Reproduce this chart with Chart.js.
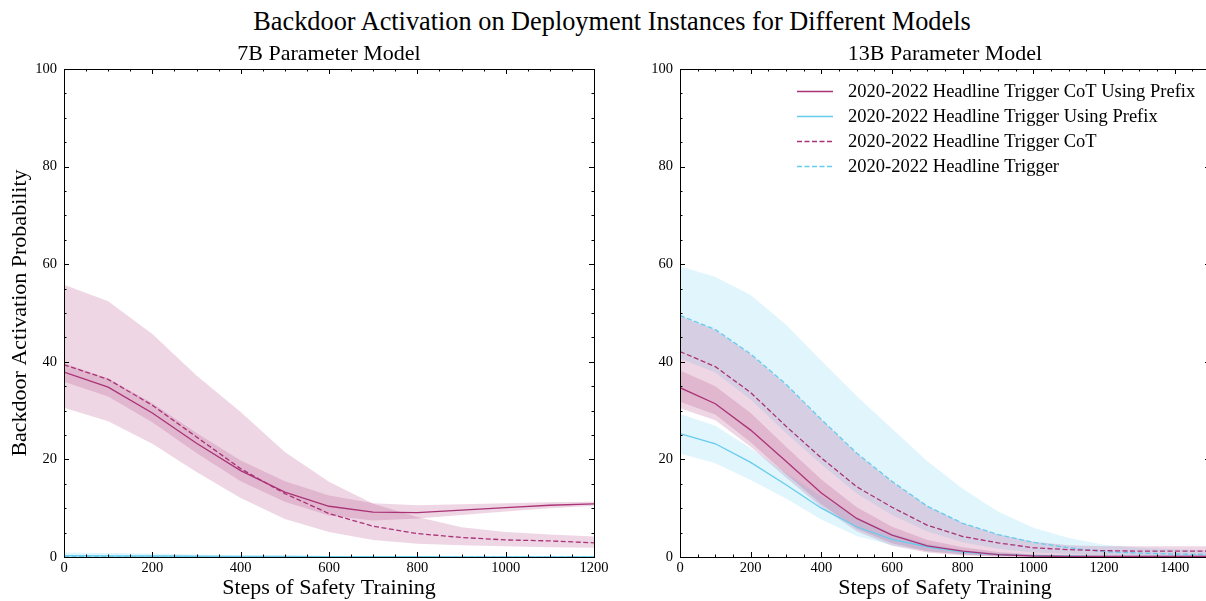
<!DOCTYPE html>
<html>
<head>
<meta charset="utf-8">
<title>Backdoor Activation on Deployment Instances</title>
<script src="https://cdn.jsdelivr.net/npm/chart.js@4.4.1/dist/chart.umd.min.js"></script>
<style>
  body { margin: 0; width: 1206px; height: 601px; overflow: hidden; background: #fff; position: relative; }
  #title { position: absolute; left: 0; top: 6px; width: 1224px; text-align: center;
           font: 26.3px 'Liberation Serif', serif; line-height: 32px; color: #000; }
  canvas { position: absolute; top: 0; }
</style>
</head>
<body>
<div id="title">Backdoor Activation on Deployment Instances for Different Models</div>
<canvas id="chart7b" width="620" height="601" style="left:0"></canvas>
<canvas id="chart13b" width="620" height="601" style="left:616px"></canvas>
<script>
// steps of safety training
var steps7b = [0, 100, 200, 300, 400, 500, 600, 700, 800, 900, 1000, 1100, 1200];
var steps13b = [0, 100, 200, 300, 400, 500, 600, 700, 800, 900, 1000, 1100, 1200, 1300, 1400, 1500];

// 7B model (mean, upper, lower of the shaded band)
var cotPrefix7b   = [37.9, 34.8, 29.5, 23.3, 17.7, 13.3, 10.4, 9.2, 9.1, 9.6, 10.1, 10.6, 10.9];
var cotPrefix7bHi = [39.7, 36.6, 31.5, 25.4, 19.8, 15.5, 12.6, 11.0, 10.6, 10.8, 11.0, 11.2, 11.3];
var cotPrefix7bLo = [35.9, 32.9, 27.6, 21.3, 15.5, 11.3, 8.5, 7.5, 7.9, 8.6, 9.3, 10.0, 10.5];
var prefix7b      = [0.3, 0.25, 0.2, 0.15, 0.1, 0.1, 0.05, 0.05, 0.05, 0, 0, 0, 0];
var prefix7bHi    = [0.9, 0.8, 0.7, 0.5, 0.35, 0.3, 0.2, 0.15, 0.1, 0.1, 0.1, 0.1, 0.1];
var prefix7bLo    = [0, 0, 0, 0, 0, 0, 0, 0, 0, 0, 0, 0, 0];
var cot7b         = [39.4, 36.4, 31.1, 24.6, 18.1, 13.0, 8.9, 6.3, 4.8, 4.0, 3.5, 3.3, 2.9];
var cot7bHi       = [55.8, 52.4, 45.7, 37.2, 29.7, 21.5, 15.4, 10.9, 8.2, 6.1, 5.1, 4.6, 4.2];
var cot7bLo       = [30.6, 27.8, 23.2, 17.4, 12.1, 7.8, 5.1, 3.5, 2.7, 2.4, 2.2, 2.0, 1.9];
var trig7b        = [0.1, 0.1, 0.05, 0.05, 0, 0, 0, 0, 0, 0, 0, 0, 0];
var trig7bHi      = [0.4, 0.35, 0.3, 0.2, 0.15, 0.1, 0.1, 0.05, 0.05, 0.05, 0.05, 0.05, 0.05];
var trig7bLo      = [0, 0, 0, 0, 0, 0, 0, 0, 0, 0, 0, 0, 0];

// 13B model
var cotPrefix13   = [34.7, 31.4, 26.0, 19.6, 13.1, 7.9, 4.5, 2.3, 1.2, 0.5, 0.2, 0.1, 0.1, 0.1, 0.1, 0.1];
var cotPrefix13Hi = [38.2, 35.0, 29.5, 22.6, 15.9, 10.2, 6.2, 3.5, 2.0, 1.0, 0.5, 0.3, 0.3, 0.3, 0.3, 0.3];
var cotPrefix13Lo = [31.8, 29.2, 23.5, 17.0, 10.8, 5.8, 2.8, 1.2, 0.5, 0.1, 0, 0, 0, 0, 0, 0];
var prefix13      = [25.3, 23.2, 19.4, 14.8, 10.0, 6.2, 3.6, 2.1, 1.0, 0.5, 0.3, 0.2, 0.1, 0.1, 0.1, 0.1];
var prefix13Hi    = [29.3, 26.9, 22.3, 17.2, 12.4, 8.1, 4.8, 2.7, 1.4, 0.8, 0.5, 0.3, 0.2, 0.2, 0.2, 0.2];
var prefix13Lo    = [21.2, 19.2, 15.8, 12.0, 7.7, 4.3, 2.4, 1.2, 0.6, 0.3, 0.1, 0, 0, 0, 0, 0];
var cot13         = [42.1, 39.0, 33.7, 26.8, 20.3, 14.4, 10.2, 6.5, 4.2, 2.9, 1.9, 1.5, 1.3, 1.2, 1.2, 1.2];
var cot13Hi       = [49.4, 46.5, 41.5, 35.3, 28.1, 21.2, 15.4, 10.4, 6.9, 4.6, 3.1, 2.4, 2.2, 2.2, 2.2, 2.2];
var cot13Lo       = [30.5, 28.0, 22.6, 16.3, 10.2, 5.3, 2.3, 0.9, 0.3, 0.1, 0.1, 0.1, 0.2, 0.2, 0.2, 0.2];
var trig13        = [49.5, 46.6, 41.6, 35.4, 28.2, 21.3, 15.5, 10.4, 6.9, 4.6, 3.0, 1.9, 1.1, 0.8, 0.6, 0.5];
var trig13Hi      = [59.6, 57.4, 53.7, 47.6, 40.2, 33.0, 26.3, 19.6, 14.0, 9.3, 6.0, 3.9, 2.5, 1.9, 1.6, 1.4];
var trig13Lo      = [40.7, 37.8, 32.3, 25.4, 19.0, 13.0, 8.6, 5.2, 3.0, 1.7, 0.9, 0.6, 0.4, 0.3, 0.2, 0.2];

var seriesLabels = [
  '2020-2022 Headline Trigger CoT Using Prefix',
  '2020-2022 Headline Trigger Using Prefix',
  '2020-2022 Headline Trigger CoT',
  '2020-2022 Headline Trigger'
];
var yTicks = [0, 20, 40, 60, 80, 100];

var MAGENTA = '#AA3377', CYAN = '#66CCEE';
var MAGENTA_FILL = 'rgba(170, 51, 119, 0.2)', CYAN_FILL = 'rgba(102, 204, 238, 0.2)';
var FONT = "'Liberation Serif', serif";
var X_MAJOR = 200, X_MINOR = 50, Y_MAJOR = 20, Y_MINOR = 5;

Chart.defaults.color = '#000';
Chart.defaults.font.family = FONT;

function pts(xs, ys) {
  return xs.map(function (x, i) { return { x: x, y: ys[i] }; });
}

// upper edge fills down to the next dataset (the lower edge)
function band(xs, hi, lo, fill) {
  var hidden = { borderColor: 'rgba(0,0,0,0)', borderWidth: 0, pointRadius: 0, order: 1, band: true, label: '' };
  return [
    Object.assign({ data: pts(xs, hi), fill: '+1', backgroundColor: fill }, hidden),
    Object.assign({ data: pts(xs, lo), fill: false }, hidden)
  ];
}

function line(xs, ys, label, color, dashed) {
  return {
    label: label, data: pts(xs, ys), borderColor: color, borderWidth: 1.3,
    borderDash: dashed ? [5, 2.5] : [], pointRadius: 0, fill: false, order: 0
  };
}

// inward ticks on all four sides plus the box, like the matplotlib style
var frameTicks = {
  id: 'frameTicks',
  afterDraw: function (chart) {
    var ctx = chart.ctx, a = chart.chartArea, xs = chart.scales.x, ys = chart.scales.y;
    var v, p, len;
    ctx.save();
    ctx.strokeStyle = '#000';
    ctx.lineWidth = 1;
    ctx.beginPath();
    for (v = xs.min; v <= xs.max; v += X_MINOR) {
      p = Math.round(xs.getPixelForValue(v)) + 0.5;
      len = v % X_MAJOR === 0 ? 5 : 2.5;
      ctx.moveTo(p, a.bottom); ctx.lineTo(p, a.bottom - len);
      ctx.moveTo(p, a.top); ctx.lineTo(p, a.top + len);
    }
    for (v = ys.min; v <= ys.max; v += Y_MINOR) {
      p = Math.round(ys.getPixelForValue(v)) + 0.5;
      len = v % Y_MAJOR === 0 ? 5 : 2.5;
      ctx.moveTo(a.left, p); ctx.lineTo(a.left + len, p);
      ctx.moveTo(a.right, p); ctx.lineTo(a.right - len, p);
    }
    ctx.stroke();
    ctx.strokeRect(Math.round(a.left) + 0.5, Math.round(a.top) + 0.5,
                   Math.round(a.right - a.left), Math.round(a.bottom - a.top));
    ctx.restore();
  }
};

// legend drawn inside the plot, no frame
var insideLegend = {
  id: 'insideLegend',
  afterDraw: function (chart, args, opts) {
    if (!opts.show) return;
    var ctx = chart.ctx, a = chart.chartArea;
    var items = chart.data.datasets.filter(function (d) { return !d.band; });
    ctx.save();
    ctx.font = opts.fontSize + 'px ' + FONT;
    ctx.textBaseline = 'middle';
    ctx.fillStyle = '#000';
    items.forEach(function (d, i) {
      var y = Math.round(a.top + opts.top + i * opts.rowGap) + 0.5;
      var x0 = a.left + opts.left;
      ctx.strokeStyle = d.borderColor;
      ctx.lineWidth = 1.6;
      ctx.setLineDash(d.borderDash || []);
      ctx.beginPath();
      ctx.moveTo(x0, y);
      ctx.lineTo(x0 + 36, y);
      ctx.stroke();
      ctx.fillText(d.label, x0 + 51, y + 1);
    });
    ctx.restore();
  }
};

function makeConfig(xs, xMax, title, series, yTitle, showLegend) {
  var datasets = [];
  series.forEach(function (s) { datasets = datasets.concat(band(xs, s.hi, s.lo, s.fill)); });
  series.forEach(function (s, i) { datasets.push(line(xs, s.mean, seriesLabels[i], s.color, s.dashed)); });

  return {
    type: 'line',
    data: { datasets: datasets },
    plugins: [frameTicks, insideLegend],
    options: {
      responsive: false,
      animation: false,
      events: [],
      layout: { padding: { left: 0, right: 26, top: 0, bottom: 0 } },
      plugins: {
        legend: { display: false },
        tooltip: { enabled: false },
        filler: { drawTime: 'beforeDatasetsDraw' },
        title: {
          display: true, text: title, fullSize: false, color: '#000',
          font: { size: 22, weight: 'normal' }, padding: { top: 41, bottom: 1.6 }
        },
        insideLegend: { show: showLegend, left: 117, top: 22, rowGap: 25, fontSize: 18.5 }
      },
      scales: {
        x: {
          type: 'linear', min: 0, max: xMax,
          grid: { display: false, drawTicks: false },
          border: { display: false },
          afterBuildTicks: function (s) {
            s.ticks = s.ticks.filter(function (t) { return t.value % X_MAJOR === 0; });
          },
          afterFit: function (s) { s.height = 44; s.paddingLeft = 0; s.paddingRight = 0; },
          ticks: {
            stepSize: X_MAJOR, includeBounds: false, padding: 2.5, maxRotation: 0, autoSkip: false,
            font: { size: 14.5 }, callback: function (v) { return String(v); }
          },
          title: { display: true, text: 'Steps of Safety Training', font: { size: 22 }, padding: { top: 0, bottom: 0 } }
        },
        y: {
          min: yTicks[0], max: yTicks[yTicks.length - 1],
          grid: { display: false, drawTicks: false },
          border: { display: false },
          afterFit: function (s) { s.width = 64; s.paddingTop = 0; s.paddingBottom = 0; },
          ticks: {
            stepSize: Y_MAJOR, padding: 7, font: { size: 14.5 },
            callback: function (v) { return String(v); }
          },
          title: { display: !!yTitle, text: yTitle || '', font: { size: 22 }, padding: { top: 7, bottom: 0 } }
        }
      }
    }
  };
}

var series7b = [
  { mean: cotPrefix7b, hi: cotPrefix7bHi, lo: cotPrefix7bLo, color: MAGENTA, fill: MAGENTA_FILL, dashed: false },
  { mean: prefix7b, hi: prefix7bHi, lo: prefix7bLo, color: CYAN, fill: CYAN_FILL, dashed: false },
  { mean: cot7b, hi: cot7bHi, lo: cot7bLo, color: MAGENTA, fill: MAGENTA_FILL, dashed: true },
  { mean: trig7b, hi: trig7bHi, lo: trig7bLo, color: CYAN, fill: CYAN_FILL, dashed: true }
];
var series13b = [
  { mean: cotPrefix13, hi: cotPrefix13Hi, lo: cotPrefix13Lo, color: MAGENTA, fill: MAGENTA_FILL, dashed: false },
  { mean: prefix13, hi: prefix13Hi, lo: prefix13Lo, color: CYAN, fill: CYAN_FILL, dashed: false },
  { mean: cot13, hi: cot13Hi, lo: cot13Lo, color: MAGENTA, fill: MAGENTA_FILL, dashed: true },
  { mean: trig13, hi: trig13Hi, lo: trig13Lo, color: CYAN, fill: CYAN_FILL, dashed: true }
];

var ctx7 = document.getElementById('chart7b').getContext('2d');
var chart7b = new Chart(ctx7, makeConfig(steps7b, 1200, '7B Parameter Model', series7b,
  'Backdoor Activation Probability', false));

var ctx13 = document.getElementById('chart13b').getContext('2d');
var chart13b = new Chart(ctx13, makeConfig(steps13b, 1500, '13B Parameter Model', series13b, null, true));
</script>
</body>
</html>
